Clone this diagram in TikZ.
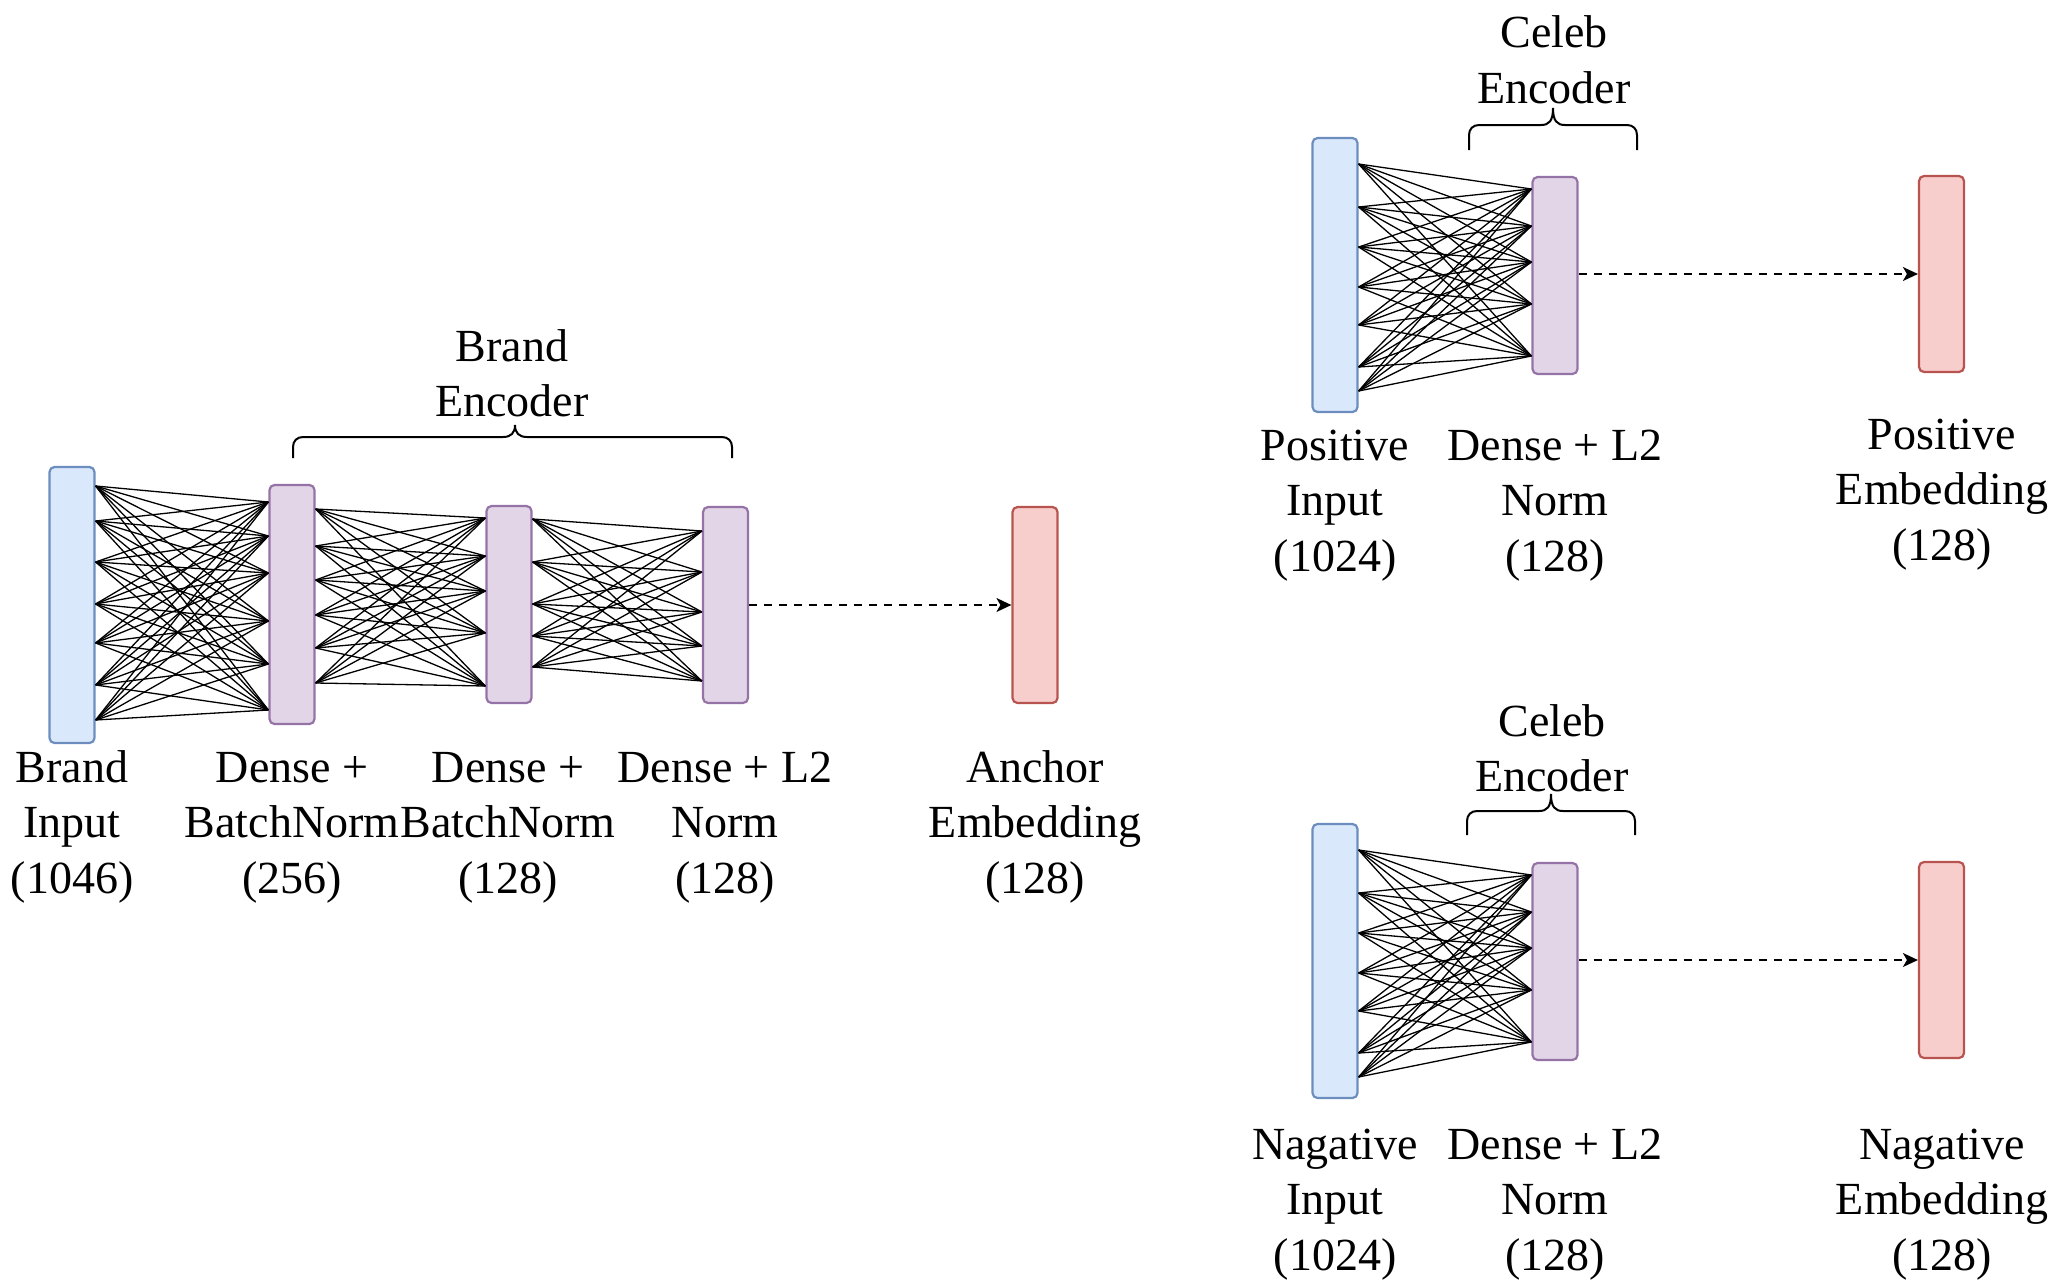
\documentclass[tikz,border=0pt]{standalone}
\usepackage{fontspec}
\setmainfont{Liberation Serif}
\usetikzlibrary{arrows.meta}
\definecolor{bluefill}{HTML}{DAE8FC}
\definecolor{bluedraw}{HTML}{6C8EBF}
\definecolor{purplefill}{HTML}{E1D5E7}
\definecolor{purpledraw}{HTML}{9673A6}
\definecolor{redfill}{HTML}{F8CECC}
\definecolor{reddraw}{HTML}{B85450}
\tikzset{
  layer/.style={rectangle, rounded corners=2.5pt, line width=1.1pt, minimum width=22.5pt, inner sep=0pt},
  inlayer/.style={layer, fill=bluefill, draw=bluedraw},
  denselayer/.style={layer, fill=purplefill, draw=purpledraw},
  outlayer/.style={layer, fill=redfill, draw=reddraw},
  lbl/.style={font=\fontsize{23}{27.75}\selectfont, align=center, anchor=base, inner sep=0pt},
  conn/.style={line width=0.65pt, black},
  flow/.style={line width=0.75pt, dash pattern=on 4pt off 3.5pt, -{Stealth[length=7.5pt,width=7pt,inset=2pt]}},
  bracepath/.style={line width=1pt, black}
}
\newcommand\drawbrace[6]{% x1, x2, xc, ytip, yflat, yend
  \draw[bracepath] (#1,#6) -- (#1,#5+10) .. controls (#1,#5+4) and (#1+4,#5) .. (#1+10,#5)
    -- (#3-12,#5) .. controls (#3-4,#5) and (#3,#5-4) .. (#3,#4)
    .. controls (#3,#5-4) and (#3+4,#5) .. (#3+12,#5)
    -- (#2-10,#5) .. controls (#2-4,#5) and (#2,#5+4) .. (#2,#5+10) -- (#2,#6);}
\begin{document}
\begin{tikzpicture}[x=0.5pt,y=-0.5pt]
\useasboundingbox (0,0) rectangle (2048,1279);

% ---------------- Brand encoder ----------------
\node[inlayer, minimum height=138pt] (bin) at (72,605) {};
\node[denselayer, minimum height=119.5pt] (bd1) at (292,604.5) {};
\node[denselayer, minimum height=98.5pt] (bd2) at (509,604.5) {};
\node[denselayer, minimum height=98pt] (bd3) at (725.5,605) {};
\node[outlayer, minimum height=98pt] (anchor) at (1035,605) {};

\foreach \y [count=\i] in {486,521,562,604,643,685,720}
  \path (bin.east) ++(0,\y-605) coordinate (bi\i);
\foreach \y [count=\i] in {502,536,573,621,664,710}
  \path (bd1.west) ++(0,\y-604.5) coordinate (bdal\i);
\foreach \y [count=\i] in {509,546,580,615,648,683}
  \path (bd1.east) ++(0,\y-604.5) coordinate (bdar\i);
\foreach \y [count=\i] in {518,556,591,633,686}
  \path (bd2.west) ++(0,\y-604.5) coordinate (bdbl\i);
\foreach \y [count=\i] in {519,562,604,636,667}
  \path (bd2.east) ++(0,\y-604.5) coordinate (bdbr\i);
\foreach \y [count=\i] in {531,572,612,646,681}
  \path (bd3.west) ++(0,\y-605) coordinate (bdcl\i);

\foreach \i in {1,...,7} \foreach \j in {1,...,6} \draw[conn] (bi\i) -- (bdal\j);
\foreach \i in {1,...,6} \foreach \j in {1,...,5} \draw[conn] (bdar\i) -- (bdbl\j);
\foreach \i in {1,...,5} \foreach \j in {1,...,5} \draw[conn] (bdbr\i) -- (bdcl\j);

\draw[flow] (bd3.east) -- (anchor.west);

\drawbrace{293}{732}{515}{425}{437}{458}
\node[lbl] (btitle) at (512,416.5) {Brand\\Encoder};

\node[lbl] (lbin) at (72,893) {Brand\\Input\\(1046)};
\node[lbl] (lbd1) at (292,893) {Dense +\\BatchNorm\\(256)};
\node[lbl] (lbd2) at (508,893) {Dense +\\BatchNorm\\(128)};
\node[lbl] (lbd3) at (725,893) {Dense + L2\\Norm\\(128)};
\node[lbl] (lanchor) at (1035,893) {Anchor\\Embedding\\(128)};

% ---------------- Celeb encoders ----------------
\foreach \p/\o in {p/0, n/686} {
  \node[inlayer, minimum height=137pt] (\p-in) at (1335,275+\o) {};
  \node[denselayer, minimum height=98.5pt] (\p-d) at (1555,275.5+\o) {};
  \node[outlayer, minimum height=98pt] (\p-out) at (1941.5,274+\o) {};
  \foreach \y [count=\i] in {164,207,247,287,325,367,391}
    \path (\p-in.east) ++(0,\y-275) coordinate (\p-i\i);
  \foreach \y [count=\i] in {189,226,262,304,356}
    \path (\p-d.west) ++(0,\y-275.5) coordinate (\p-dl\i);
  \foreach \i in {1,...,7} \foreach \j in {1,...,5} \draw[conn] (\p-i\i) -- (\p-dl\j);
  \draw[flow] (\p-d.east |- \p-out.west) -- (\p-out.west);
}

\drawbrace{1469}{1637}{1553}{108}{125}{150}
\node[lbl] (ptitle) at (1554,103.5) {Celeb\\Encoder};
\node[lbl] (lpin) at (1335,571) {Positive\\Input\\(1024)};
\node[lbl] (lpd) at (1555,571) {Dense + L2\\Norm\\(128)};
\node[lbl] (lpout) at (1942,560) {Positive\\Embedding\\(128)};

\drawbrace{1467}{1635}{1551}{794}{811}{835}
\node[lbl] (ntitle) at (1552,791.5) {Celeb\\Encoder};
\node[lbl] (lnin) at (1335,1270) {Nagative\\Input\\(1024)};
\node[lbl] (lnd) at (1555,1270) {Dense + L2\\Norm\\(128)};
\node[lbl] (lnout) at (1942,1270) {Nagative\\Embedding\\(128)};
\end{tikzpicture}
\end{document}
